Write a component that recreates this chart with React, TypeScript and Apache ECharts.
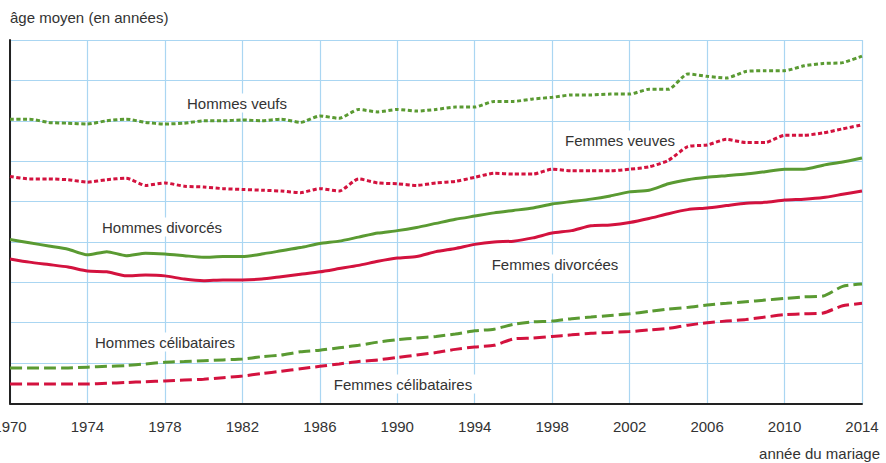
import React, { useEffect, useRef } from "react";
import * as echarts from "echarts";

const years: string[] = [];
for (let y = 1970; y <= 2014; y++) years.push(String(y));

const hommesVeufs = [55.2, 55.2, 54.8, 54.7, 54.6, 55.0, 55.2, 54.8, 54.6, 54.7, 55.0, 55.0, 55.1, 55.0, 55.2, 54.8, 55.6, 55.3, 56.4, 56.1, 56.4, 56.2, 56.4, 56.7, 56.7, 57.4, 57.4, 57.7, 57.9, 58.2, 58.2, 58.3, 58.3, 58.9, 58.9, 60.8, 60.5, 60.3, 61.1, 61.2, 61.2, 61.8, 62.1, 62.2, 63.0];
const femmesVeuves = [48.1, 47.8, 47.8, 47.7, 47.4, 47.7, 47.9, 47.0, 47.3, 46.9, 46.8, 46.6, 46.5, 46.4, 46.3, 46.1, 46.6, 46.3, 47.8, 47.3, 47.2, 47.0, 47.3, 47.5, 48.0, 48.5, 48.4, 48.4, 49.0, 48.8, 48.8, 48.8, 49.0, 49.3, 50.1, 51.8, 52.0, 52.7, 52.3, 52.3, 53.2, 53.2, 53.5, 54.0, 54.5];
const hommesDivorces = [40.3, 39.9, 39.5, 39.1, 38.4, 38.8, 38.3, 38.6, 38.5, 38.3, 38.1, 38.2, 38.2, 38.5, 38.9, 39.3, 39.8, 40.1, 40.6, 41.1, 41.4, 41.8, 42.3, 42.8, 43.2, 43.6, 43.9, 44.2, 44.7, 45.0, 45.3, 45.7, 46.2, 46.4, 47.2, 47.7, 48.0, 48.2, 48.4, 48.7, 49.0, 49.0, 49.5, 49.9, 50.4];
const femmesDivorcees = [37.9, 37.5, 37.2, 36.9, 36.4, 36.3, 35.8, 35.9, 35.8, 35.4, 35.2, 35.3, 35.3, 35.4, 35.7, 36.0, 36.3, 36.7, 37.1, 37.6, 38.0, 38.2, 38.8, 39.2, 39.7, 40.0, 40.1, 40.5, 41.1, 41.4, 42.0, 42.1, 42.4, 42.9, 43.5, 44.0, 44.2, 44.5, 44.8, 44.9, 45.2, 45.3, 45.5, 45.9, 46.3];
const hommesCelibataires = [24.4, 24.4, 24.4, 24.4, 24.5, 24.6, 24.7, 24.9, 25.1, 25.2, 25.3, 25.4, 25.5, 25.8, 26.0, 26.4, 26.6, 26.9, 27.2, 27.6, 27.9, 28.1, 28.3, 28.6, 29.0, 29.2, 29.8, 30.1, 30.2, 30.5, 30.7, 30.9, 31.1, 31.4, 31.7, 31.9, 32.2, 32.4, 32.6, 32.8, 33.0, 33.2, 33.3, 34.5, 34.8];
const femmesCelibataires = [22.4, 22.4, 22.4, 22.4, 22.4, 22.5, 22.6, 22.7, 22.8, 22.9, 23.0, 23.2, 23.4, 23.7, 24.0, 24.3, 24.6, 24.9, 25.2, 25.4, 25.7, 26.0, 26.3, 26.7, 27.0, 27.2, 28.0, 28.1, 28.3, 28.5, 28.7, 28.8, 28.9, 29.1, 29.3, 29.7, 30.0, 30.2, 30.4, 30.7, 31.0, 31.1, 31.2, 32.1, 32.4];

const GREEN = "#5a9a32";
const RED = "#d3123e";
const TEXT = "#333333";
const GRIDC = "#aad6f2";
const FONT = "Liberation Sans, Arial, sans-serif";

export default function App() {
  const ref = useRef<HTMLDivElement>(null);
  useEffect(() => {
    if (!ref.current) return;
    const chart = echarts.init(ref.current, undefined, { renderer: "svg" });
    const mk = (name: string, data: number[], color: string, type: any) => ({
      name,
      type: "line",
      data,
      symbol: "none",
      smooth: 0.2,
      lineStyle: { color, width: 3, type, cap: "butt" },
      z: 3,
    });
    const lbl = (text: string, cx: number, cy: number) => ({
      type: "text",
      x: cx,
      y: cy,
      z: 50,
      style: {
        text,
        fill: TEXT,
        font: `15px ${FONT}`,
        align: "center",
        verticalAlign: "middle",
        backgroundColor: "#ffffff",
        padding: [2, 5],
      },
    });
    chart.setOption({
      animation: false,
      backgroundColor: "#ffffff",
      textStyle: { fontFamily: FONT },
      grid: { left: 10, right: 24, top: 40, bottom: 59.5, containLabel: false, outerBoundsMode: "none" },
      xAxis: {
        type: "category",
        data: years,
        boundaryGap: false,
        axisLine: { show: true, lineStyle: { color: "#222", width: 2 } },
        axisTick: { show: false },
        axisLabel: { interval: 3, color: TEXT, fontSize: 15, margin: 15, fontFamily: FONT },
        splitLine: { show: true, interval: 3, lineStyle: { color: GRIDC, width: 1.2 } },
      },
      yAxis: {
        type: "value",
        min: 20,
        max: 65,
        interval: 5,
        axisLine: { show: true, lineStyle: { color: "#222", width: 2 } },
        axisTick: { show: false },
        axisLabel: { show: false },
        splitLine: { show: true, lineStyle: { color: GRIDC, width: 1.2 } },
      },
      series: [
        mk("Hommes veufs", hommesVeufs, GREEN, [4, 2.5]),
        mk("Femmes veuves", femmesVeuves, RED, [4, 2.5]),
        mk("Hommes divorcés", hommesDivorces, GREEN, "solid"),
        mk("Femmes divorcées", femmesDivorcees, RED, "solid"),
        mk("Hommes célibataires", hommesCelibataires, GREEN, [12, 5]),
        mk("Femmes célibataires", femmesCelibataires, RED, [12, 5]),
      ],
      graphic: [
        {
          type: "text",
          left: 10,
          top: 10,
          style: { text: "âge moyen (en années)", fill: TEXT, font: `15px ${FONT}` },
        },
        {
          type: "text",
          right: 6,
          top: 446,
          style: { text: "année du mariage", fill: TEXT, font: `15px ${FONT}` },
        },
        lbl("Hommes veufs", 237, 103),
        lbl("Femmes veuves", 620, 140),
        lbl("Hommes divorcés", 162, 227),
        lbl("Femmes divorcées", 555, 264),
        lbl("Hommes célibataires", 165, 342),
        lbl("Femmes célibataires", 403, 384),
      ],
    });
    return () => chart.dispose();
  }, []);
  return (
    <div
      ref={ref}
      style={{ position: "fixed", left: 0, top: 0, width: 886, height: 463, background: "#fff" }}
    />
  );
}
